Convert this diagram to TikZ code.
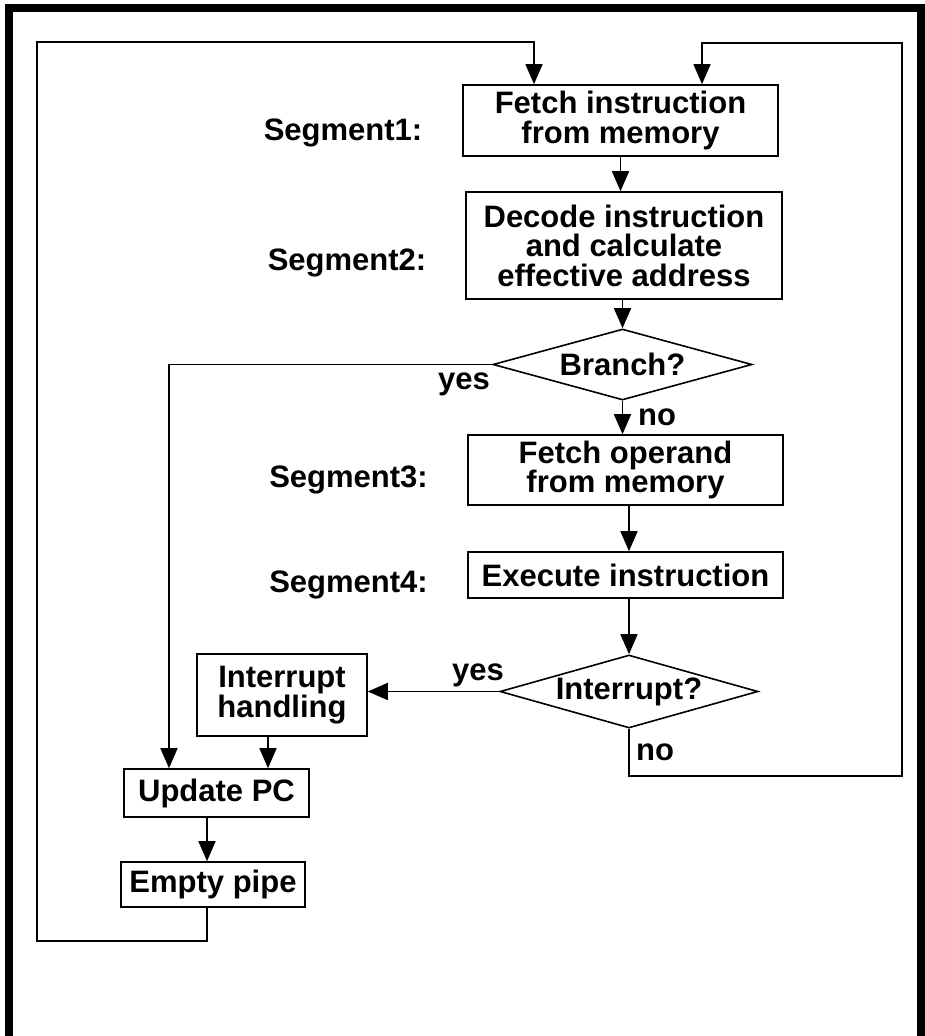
\documentclass[tikz,border=0pt]{standalone}
\usepackage{fontspec}
\setmainfont{Liberation Sans}
\usetikzlibrary{arrows.meta,shapes.geometric}
\newcommand{\SegmentLabel}[3]{\node[anchor=base] (#1) at (#2) {#3};}

\begin{document}
\begin{tikzpicture}[x=1pt,y=-1pt,line width=1.6pt,
  every node/.style={font=\fontsize{31}{29.5}\selectfont\bfseries,inner sep=0pt},
  blk/.style={draw,align=center},
  dec/.style={draw,diamond,aspect=3.5},
  arr/.style={-{Triangle[width=17pt,length=20pt]}}]
\useasboundingbox (0,0) rectangle (925,1036);
\draw[line width=8pt] (8.5,8) rectangle (921,1041);

\node[blk,minimum width=315pt,minimum height=71pt] (fetch) at (620.5,120.5) {Fetch instruction\\from memory};
\node[blk,minimum width=316pt,minimum height=107pt] (decode) at (624,245.5) {Decode instruction\\and calculate\\effective address};
\node[dec,minimum width=259pt,minimum height=71pt] (branch) at (622.5,364.5) {Branch?};
\node[blk,minimum width=315pt,minimum height=70pt] (operand) at (625.5,470) {Fetch operand\\from memory};
\node[blk,minimum width=315pt,minimum height=46pt] (execute) at (625.5,575) {Execute instruction};
\node[dec,minimum width=258pt,minimum height=73pt] (intr) at (629,691.5) {Interrupt?};
\node[blk,minimum width=170pt,minimum height=82pt] (handle) at (282,695) {Interrupt\\handling};
\node[blk,minimum width=185pt,minimum height=48pt] (update) at (216.5,793) {Update PC};
\node[blk,minimum width=184pt,minimum height=45pt] (empty) at (213,884.5) {Empty pipe};

\SegmentLabel{seg1}{343,140}{Segment1:}
\SegmentLabel{seg2}{347,270}{Segment2:}
\SegmentLabel{seg3}{348.5,487}{Segment3:}
\SegmentLabel{seg4}{348.5,592}{Segment4:}
\node[anchor=base] (yesb) at (464,389) {yes};
\node[anchor=base] (nob) at (657,425) {no};
\node[anchor=base] (yesi) at (478,680) {yes};
\node[anchor=base] (noi) at (655,760) {no};

\coordinate (yturn) at (169,364.5);
\coordinate (lbot) at (37,941);
\coordinate (ltop) at (37,42);
\coordinate (rbot) at (902,776);
\coordinate (rtop) at (902,43);

\draw[arr] (fetch.south) -- (fetch |- decode.north);
\draw[arr] (decode.south -| branch.north) -- (branch.north);
\draw[arr] (branch.south) -- (branch.south |- operand.north);
\draw[arr] (operand.south -| intr.north) -- (execute.north -| intr.north);
\draw[arr] (execute.south -| intr.north) -- (intr.north);
\draw[arr] (intr.west) -- (intr.west -| handle.east);
\draw[arr] (branch.west) -- (yturn) -- (yturn |- update.north);
\draw[arr] ([xshift=-14pt]handle.south) -- ([xshift=-14pt]handle.south |- update.north);
\draw[arr] ([xshift=-9.5pt]update.south) -- ([xshift=-9.5pt]update.south |- empty.north);
\draw[arr] ([xshift=-6pt]empty.south) |- (lbot) -- (ltop) -| ([xshift=-86.5pt]fetch.north);
\draw[arr] (intr.south) |- (rbot) -- (rtop) -| ([xshift=81.5pt]fetch.north);
\end{tikzpicture}
\end{document}
